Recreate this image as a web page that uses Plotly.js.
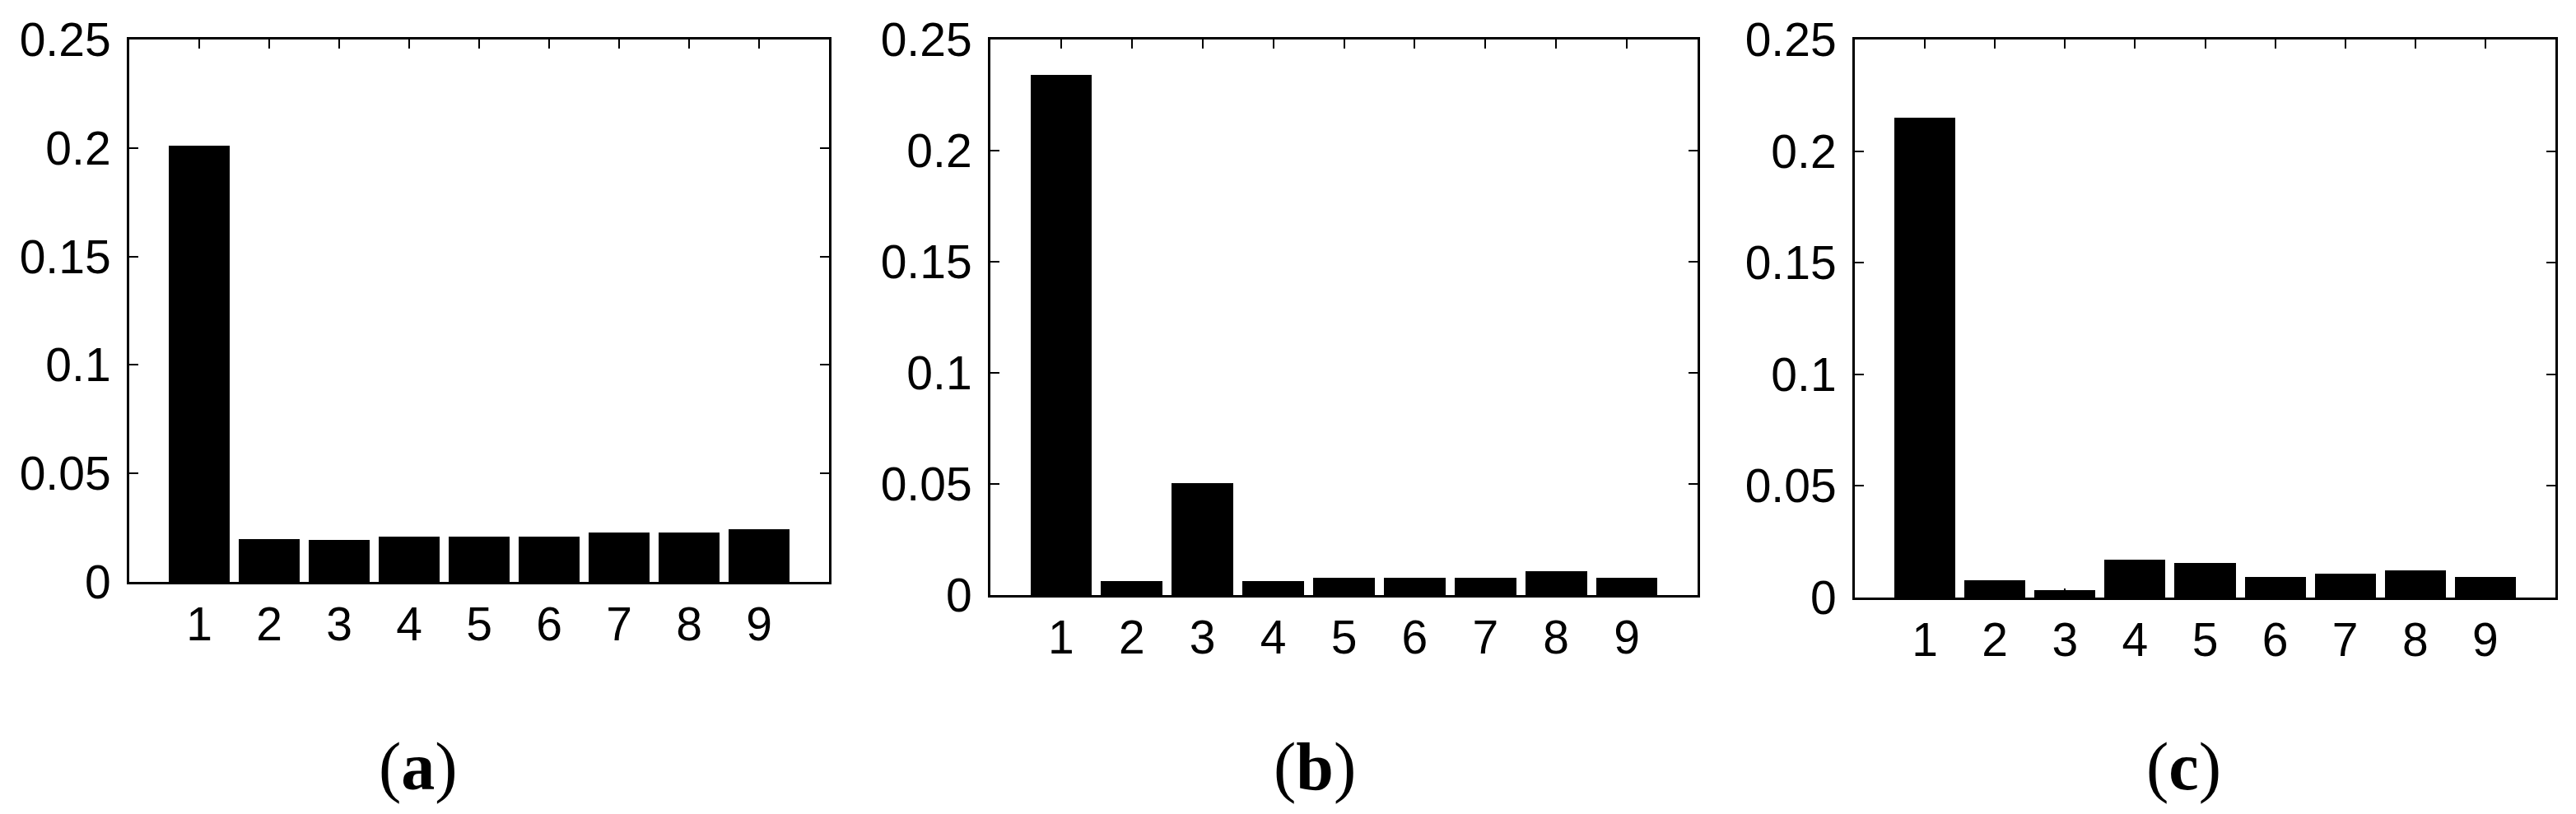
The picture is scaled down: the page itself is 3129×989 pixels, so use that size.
<!DOCTYPE html>
<html>
<head>
<meta charset="utf-8">
<script src="https://cdn.plot.ly/plotly-3.0.1.min.js"></script>
<style>
  html, body { margin: 0; padding: 0; background: #fff; }
  #plot { width: 3129px; height: 989px; }
</style>
</head>
<body>
<div id="plot"></div>
<script>
// bar indices
const categories = [1, 2, 3, 4, 5, 6, 7, 8, 9];

// values
const valuesA = [0.201, 0.0197, 0.0195, 0.021, 0.021, 0.021, 0.0228, 0.0228, 0.0243];
const valuesB = [0.234, 0.0063, 0.0505, 0.0063, 0.0079, 0.0079, 0.0079, 0.0109, 0.0079];
const valuesC = [0.215, 0.0077, 0.0032, 0.017, 0.0154, 0.0093, 0.0108, 0.0123, 0.0093];

const yTickVals = [0, 0.05, 0.1, 0.15, 0.2, 0.25];
const yTickText = ["0", "0.05", "0.1", "0.15", "0.2", "0.25"];
const panelLabels = ["a", "b", "c"];

const W = 3129, H = 989;
// plot boxes in pixels: [left, right, top, bottom]
const boxes = [
  [157, 1007, 48, 707],
  [1203, 2062, 48, 723],
  [2253, 3104, 48, 726]
];
const labelX = [508, 1597, 2652];
const labelY = 931;

const tickFont = { family: "Liberation Sans, Arial, sans-serif", size: 57, color: "#000" };

let traces = [];
let layout = {
  width: W,
  height: H,
  margin: { l: 0, r: 0, t: 0, b: 0 },
  paper_bgcolor: "#fff",
  plot_bgcolor: "#fff",
  showlegend: false,
  bargap: 0,
  annotations: []
};

[valuesA, valuesB, valuesC].forEach(function (vals, i) {
  let n = i === 0 ? "" : String(i + 1);
  traces.push({
    x: categories,
    y: vals,
    type: "bar",
    width: 0.87,
    marker: { color: "#000", line: { width: 0 } },
    xaxis: "x" + n,
    yaxis: "y" + n,
    hoverinfo: "none"
  });

  let b = boxes[i];
  layout["xaxis" + n] = {
    domain: [b[0] / W, b[1] / W],
    anchor: "y" + n,
    range: [0, 10],
    tickmode: "array",
    tickvals: categories,
    ticktext: categories.map(String),
    ticks: "inside",
    ticklen: 11,
    tickwidth: 2,
    tickcolor: "#000",
    showline: true,
    linecolor: "#000",
    linewidth: 3,
    mirror: "ticks",
    showgrid: false,
    zeroline: false,
    tickfont: tickFont,
    ticklabelstandoff: 0,
    fixedrange: true
  };
  layout["yaxis" + n] = {
    domain: [(H - b[3]) / H, (H - b[2]) / H],
    anchor: "x" + n,
    range: [0, 0.25],
    tickmode: "array",
    tickvals: yTickVals,
    ticktext: yTickText,
    ticks: "inside",
    ticklen: 11,
    tickwidth: 2,
    tickcolor: "#000",
    showline: true,
    linecolor: "#000",
    linewidth: 3,
    mirror: "ticks",
    showgrid: false,
    zeroline: false,
    tickfont: tickFont,
    ticklabelstandoff: 8,
    fixedrange: true
  };

  layout.annotations.push({
    xref: "paper",
    yref: "paper",
    x: labelX[i] / W,
    y: (H - labelY) / H,
    xanchor: "center",
    yanchor: "middle",
    showarrow: false,
    text: "(<b>" + panelLabels[i] + "</b>)",
    font: { family: "Liberation Serif, Times New Roman, serif", size: 82, color: "#000" }
  });
});

Plotly.newPlot("plot", traces, layout, { staticPlot: true });
</script>
</body>
</html>
